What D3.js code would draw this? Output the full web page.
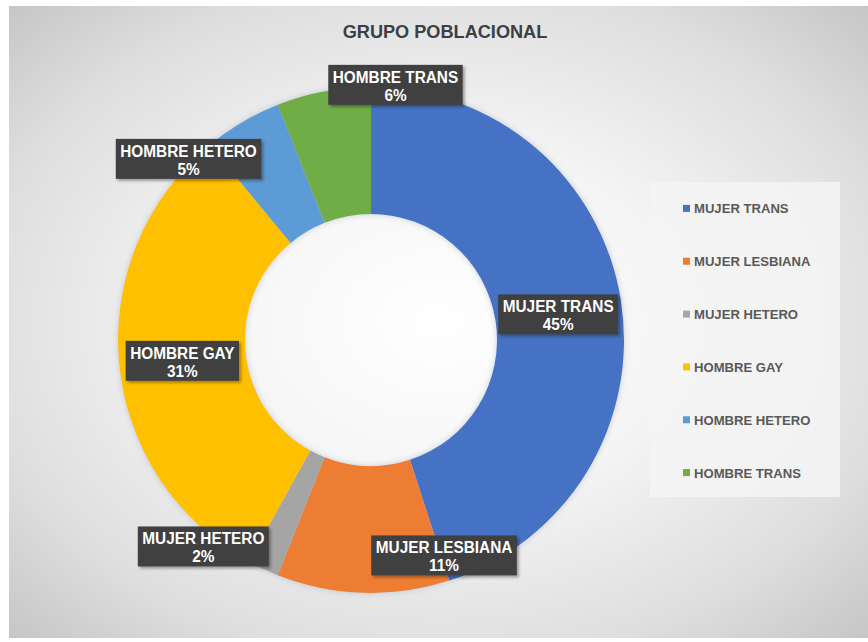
<!DOCTYPE html>
<html>
<head>
<meta charset="utf-8">
<script src="https://cdn.jsdelivr.net/npm/d3@7"></script>
<style>
  html, body { margin: 0; padding: 0; background: #ffffff; }
  svg { display: block; }
</style>
</head>
<body>
<svg id="chart" width="868" height="642"></svg>
<script>
// ---- data ----
const title = "GRUPO POBLACIONAL";
const categories = ["MUJER TRANS", "MUJER LESBIANA", "MUJER HETERO", "HOMBRE GAY", "HOMBRE HETERO", "HOMBRE TRANS"];
const values = [45, 11, 2, 31, 5, 6];
const colors = ["#4472C4", "#ED7D31", "#A5A5A5", "#FFC000", "#5B9BD5", "#70AD47"];
// manual label displacement from ring centroid (as moved in the original)
const labelShift = [[0, 4], [79, 26], [-87, 35], [0, 3], [-86, -18], [60, -69]];

const svg = d3.select("#chart");
const W = 868, H = 642;
const area = { x: 9, y: 6, w: 859, h: 632 };
const cx = 371, cy = 340, rOuter = 253, rInner = 126;

const defs = svg.append("defs");
const rg = defs.append("radialGradient").attr("id", "bg")
  .attr("cx", "50%").attr("cy", "50%").attr("r", "72%");
rg.append("stop").attr("offset", "0%").attr("stop-color", "#ffffff");
rg.append("stop").attr("offset", "40%").attr("stop-color", "#f4f4f4");
rg.append("stop").attr("offset", "75%").attr("stop-color", "#dedede");
rg.append("stop").attr("offset", "100%").attr("stop-color", "#c4c4c4");

const sh = defs.append("filter").attr("id", "shadow").attr("x", "-10%").attr("y", "-10%").attr("width", "120%").attr("height", "120%");
sh.append("feDropShadow").attr("dx", 0).attr("dy", 0).attr("stdDeviation", 3)
  .attr("flood-color", "#8a9ab0").attr("flood-opacity", 0.45);
const sh2 = defs.append("filter").attr("id", "boxshadow").attr("x", "-10%").attr("y", "-20%").attr("width", "130%").attr("height", "150%");
sh2.append("feDropShadow").attr("dx", 2).attr("dy", 2).attr("stdDeviation", 1.5)
  .attr("flood-color", "#000").attr("flood-opacity", 0.35);

svg.append("rect").attr("x", area.x).attr("y", area.y).attr("width", area.w).attr("height", area.h)
  .attr("fill", "url(#bg)");

function squeeze(sel, k) {
  sel.each(function() {
    const len = this.getComputedTextLength();
    d3.select(this).attr("textLength", len * k).attr("lengthAdjust", "spacingAndGlyphs");
  });
}

// title
svg.append("text").attr("x", 445).attr("y", 38).attr("text-anchor", "middle")
  .attr("font-family", "Liberation Sans, Arial, sans-serif").attr("font-weight", "bold")
  .attr("font-size", 19).attr("fill", "#3c3f45").text(title)
  .call(squeeze, 0.955);

// donut
const pie = d3.pie().value(d => d).sort(null);
const arcs = pie(values);
const arc = d3.arc().innerRadius(rInner).outerRadius(rOuter);
const g = svg.append("g").attr("transform", `translate(${cx},${cy})`);
g.append("g").attr("filter", "url(#shadow)")
  .selectAll("path").data(arcs).join("path")
  .attr("d", arc).attr("fill", (d, i) => colors[i]);

// labels
const total = d3.sum(values);
const fmt = d3.format(".0%");
const lg = g.append("g");
arcs.forEach((a, i) => {
  const [x0, y0] = arc.centroid(a);
  const x = x0 + labelShift[i][0], y = y0 + labelShift[i][1];
  const grp = lg.append("g").attr("transform", `translate(${x},${y})`);
  const box = grp.append("rect").attr("fill", "#404040").attr("filter", "url(#boxshadow)");
  const t = grp.append("text").attr("text-anchor", "middle")
    .attr("font-family", "Liberation Sans, Arial, sans-serif").attr("font-weight", "bold")
    .attr("font-size", 16).attr("fill", "#ffffff");
  t.append("tspan").attr("x", 0).attr("y", -2).text(categories[i]);
  t.append("tspan").attr("x", 0).attr("y", 16).text(fmt(values[i] / total));
  let maxW = 0;
  t.selectAll("tspan").each(function() {
    const len = this.getComputedTextLength() * 0.96;
    d3.select(this).attr("textLength", len).attr("lengthAdjust", "spacingAndGlyphs");
    maxW = Math.max(maxW, len);
  });
  const bw = maxW + 9;
  box.attr("x", -bw / 2).attr("y", -20).attr("width", bw).attr("height", 40);
});

// legend
svg.append("rect").attr("x", 650).attr("y", 182).attr("width", 190).attr("height", 315)
  .attr("fill", "#f4f4f4").attr("opacity", 0.85);
const ly = d3.scaleBand().domain(categories).range([182, 499]);
const leg = svg.append("g").selectAll("g").data(categories).join("g")
  .attr("transform", d => `translate(683,${ly(d) + ly.bandwidth() / 2})`);
leg.append("rect").attr("x", 0).attr("y", -3.5).attr("width", 7).attr("height", 7)
  .attr("fill", (d, i) => colors[i]);
leg.append("text").attr("x", 11).attr("y", 5)
  .attr("font-family", "Liberation Sans, Arial, sans-serif").attr("font-weight", "bold")
  .attr("font-size", 13.5).attr("fill", "#595959").text(d => d)
  .call(squeeze, 0.97);
</script>
</body>
</html>
